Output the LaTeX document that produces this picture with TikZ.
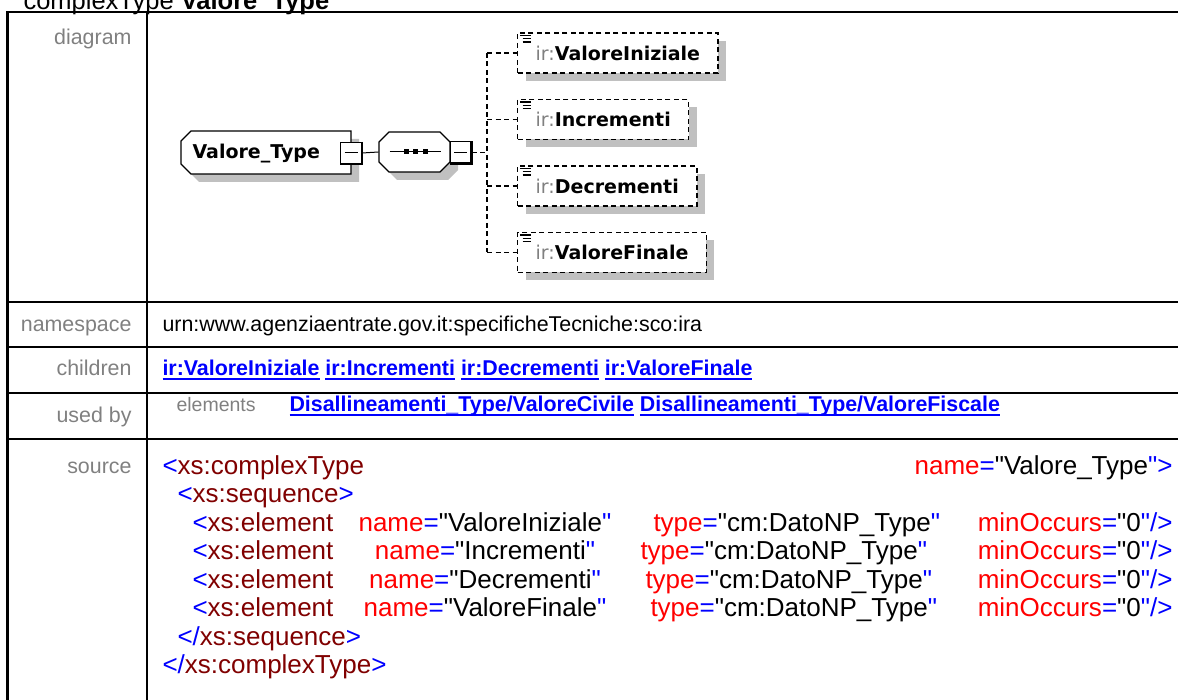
\documentclass[tikz,border=0pt]{standalone}
\usepackage{fontspec}
\setmainfont{Liberation Sans}[Ligatures=TeXOff]
\newfontfamily\srcfont{Liberation Sans}[Ligatures=TeXOff]
\newfontfamily\diagfont{DejaVu Sans}
\usetikzlibrary{backgrounds,shadows}

\definecolor{tagred}{RGB}{128,0,0}
\definecolor{attred}{RGB}{255,0,0}
\definecolor{xblue}{RGB}{0,0,255}
\definecolor{lblgray}{RGB}{128,128,128}
\definecolor{shade}{RGB}{192,192,192}

% pieces of the XML listing
\newcommand{\xtag}[1]{\textcolor{xblue}{<}\textcolor{tagred}{#1}}
\newcommand{\xend}[1]{\textcolor{xblue}{</}\textcolor{tagred}{#1}\textcolor{xblue}{>}}
\newcommand{\xatt}[2]{\textcolor{attred}{#1}\textcolor{xblue}{=}\char34 #2\textcolor{xblue}{\char34}}
% a hyperlink: underlined word by word
\newcommand{\xlink}[1]{\setbox0\hbox{#1}\rlap{\color{xblue}\vrule height -1.6pt depth 3.6pt width \wd0}\box0\relax}

\begin{document}
\begin{tikzpicture}[
  x=1pt,y=-1pt,
  line width=1pt,
  % the documentation table round the diagram
  rule/.style={line width=2.5pt},
  lbl/.style={anchor=base east,inner sep=0pt,text=lblgray,font=\fontsize{21.4}{25}\selectfont},
  cell/.style={anchor=base west,inner sep=0pt,font=\fontsize{21.4}{25}\selectfont},
  link/.style={cell,text=xblue,font=\fontsize{21.4}{25}\selectfont\bfseries},
  src/.style={inner sep=0pt,font=\srcfont\fontsize{26}{30}\selectfont},
  % the schema diagram itself
  shadowfill/.style={fill=shade,draw=none},
  shapeline/.style={draw=black,fill=white,line width=1.1pt},
  dline/.style={dash pattern=on 5pt off 3.5pt,line width=1.4pt},
  minusbox/.style={draw,fill=white,line width=1pt,minimum size=21pt,inner sep=0pt,
    path picture={\draw ([xshift=-6.5pt]path picture bounding box.center)
      -- ([xshift=6.5pt]path picture bounding box.center);}},
  elem/.style={draw,dline,fill=white,anchor=west,minimum height=40pt,inner xsep=18pt,
    font=\diagfont\fontsize{19}{22}\selectfont,
    drop shadow={shadow xshift=8pt,shadow yshift=-8pt,opacity=1,fill=shade},
    path picture={\draw[solid,line width=1.1pt]
      ([xshift=2.5pt,yshift=-2.5pt]path picture bounding box.north west)
        -- ([xshift=13pt,yshift=-2.5pt]path picture bounding box.north west)
      ([xshift=5pt,yshift=-5.8pt]path picture bounding box.north west)
        -- ([xshift=13pt,yshift=-5.8pt]path picture bounding box.north west)
      ([xshift=5pt,yshift=-9pt]path picture bounding box.north west)
        -- ([xshift=13pt,yshift=-9pt]path picture bounding box.north west);}},
]

%--- geometry ----------------------------------------------------------------
\def\boxL{181}         % left face of the Valore_Type box
\def\boxR{351}         % right face of the Valore_Type box
\def\boxT{131}         % top of the Valore_Type box
\def\boxB{174}         % bottom of the Valore_Type box
\def\seqL{379}         % left face of the sequence octagon
\def\seqR{450}         % right face of the sequence octagon
\def\seqT{132}         % top of the sequence octagon
\def\seqB{172}         % bottom of the sequence octagon
\def\cut{10}           % size of the cut corners
\def\sh{8}             % shadow offset

\useasboundingbox (0,0) rectangle (1178,700);
\clip (0,0) rectangle (1178,700);

%--- the table ---------------------------------------------------------------
\node[anchor=base west,inner sep=0pt,font=\fontsize{25.5}{30}\selectfont] (title)
  at (23,10) {complexType \textbf{Valore\_Type}};

\draw[rule] (1185,12) -- (7.5,12) -- (7.5,710);
\draw[rule] (147,12) -- (147,710);
\draw[rule] (7.5,302) -- (1185,302);
\draw[rule] (7.5,347) -- (1185,347);
\draw[rule] (7.5,393) -- (1185,393);
\draw[rule] (7.5,439) -- (1185,439);

\node[lbl] (lDiagram) at (132,45) {diagram};
\node[lbl] (lNamespace) at (132,331.5) {namespace};
\node[lbl] (lChildren) at (132,376) {children};
\node[lbl] (lUsedby) at (132,423) {used by};
\node[lbl] (lSource) at (132,473) {source};

\node[cell] (namespace) at (162,331.5)
  {urn:www.agenziaentrate.gov.it:specificheTecniche:sco:ira};
\node[link] (children) at (162,376)
  {\xlink{ir:ValoreIniziale} \xlink{ir:Incrementi} \xlink{ir:Decrementi} \xlink{ir:ValoreFinale}};
\node[cell,text=lblgray,font=\fontsize{19.5}{23}\selectfont] (elements) at (176,412) {elements};
\node[link] (usedby) at (289,412)
  {\xlink{Disallineamenti\_Type/ValoreCivile} \xlink{Disallineamenti\_Type/ValoreFiscale}};

%--- the XML source ----------------------------------------------------------
\node[src,anchor=base west] (s1) at (162,474) {\xtag{xs:complexType}};
\node[src,anchor=base east] (s1n) at (1173,474) {\xatt{name}{Valore\_Type}\textcolor{xblue}{>}};
\node[src,anchor=base west] (s2) at (177,502.5) {\xtag{xs:sequence}\textcolor{xblue}{>}};

\node[src,anchor=base west] (s3) at (192,531) {\xtag{xs:element}};
\node[src,anchor=base] (s3n) at (485,531) {\xatt{name}{ValoreIniziale}};
\node[src,anchor=base west] (s3t) at (653,531) {\xatt{type}{cm:DatoNP\_Type}};
\node[src,anchor=base east] (s3m) at (1173,531) {\xatt{minOccurs}{0}\textcolor{xblue}{/>}};

\node[src,anchor=base west] (s4) at (192,559.5) {\xtag{xs:element}};
\node[src,anchor=base] (s4n) at (485,559.5) {\xatt{name}{Incrementi}};
\node[src,anchor=base west] (s4t) at (640,559.5) {\xatt{type}{cm:DatoNP\_Type}};
\node[src,anchor=base east] (s4m) at (1173,559.5) {\xatt{minOccurs}{0}\textcolor{xblue}{/>}};

\node[src,anchor=base west] (s5) at (192,588) {\xtag{xs:element}};
\node[src,anchor=base] (s5n) at (485,588) {\xatt{name}{Decrementi}};
\node[src,anchor=base west] (s5t) at (645,588) {\xatt{type}{cm:DatoNP\_Type}};
\node[src,anchor=base east] (s5m) at (1173,588) {\xatt{minOccurs}{0}\textcolor{xblue}{/>}};

\node[src,anchor=base west] (s6) at (192,616.5) {\xtag{xs:element}};
\node[src,anchor=base] (s6n) at (485,616.5) {\xatt{name}{ValoreFinale}};
\node[src,anchor=base west] (s6t) at (650,616.5) {\xatt{type}{cm:DatoNP\_Type}};
\node[src,anchor=base east] (s6m) at (1173,616.5) {\xatt{minOccurs}{0}\textcolor{xblue}{/>}};

\node[src,anchor=base west] (s7) at (177,645) {\xend{xs:sequence}};
\node[src,anchor=base west] (s8) at (162,673.5) {\xend{xs:complexType}};

%--- the diagram -------------------------------------------------------------
% Shadows first, then the white shapes on top of them.
\fill[shadowfill,shift={(\sh,\sh)}] (\boxL+\cut,\boxT) -- (\boxR,\boxT) -- (\boxR,\boxB)
  -- (\boxL+\cut,\boxB) -- (\boxL,\boxB-\cut) -- (\boxL,\boxT+\cut) -- cycle;
\fill[shadowfill,shift={(\sh,\sh)}] (\seqL+\cut,\seqT) -- (\seqR-\cut,\seqT) -- (\seqR,\seqT+\cut)
  -- (\seqR,\seqB-\cut) -- (\seqR-\cut,\seqB) -- (\seqL+\cut,\seqB) -- (\seqL,\seqB-\cut)
  -- (\seqL,\seqT+\cut) -- cycle;

\path[shapeline] (\boxL+\cut,\boxT) -- (\boxR,\boxT) -- (\boxR,\boxB)
  -- (\boxL+\cut,\boxB) -- (\boxL,\boxB-\cut) -- (\boxL,\boxT+\cut) -- cycle;
\path[shapeline] (\seqL+\cut,\seqT) -- (\seqR-\cut,\seqT) -- (\seqR,\seqT+\cut)
  -- (\seqR,\seqB-\cut) -- (\seqR-\cut,\seqB) -- (\seqL+\cut,\seqB) -- (\seqL,\seqB-\cut)
  -- (\seqL,\seqT+\cut) -- cycle;

\node[anchor=base west,inner sep=0pt,font=\diagfont\bfseries\fontsize{19}{22}\selectfont]
  (vtype) at (192,158.5) {Valore\_Type};
\node[minimum width=71pt,minimum height=40pt,inner sep=0pt] (seq) at (414.5,152) {};

% The sequence symbol: a line with three dots.
\draw ([xshift=11pt]seq.west) -- ([xshift=-10pt]seq.east);
\fill (403.5,149.5) rectangle (408.5,154.5);
\fill (413,149.5) rectangle (418,154.5);
\fill (422.5,149.5) rectangle (427.5,154.5);

\node[minusbox] (vminus) at (351,153) {};
\node[minusbox] (sminus) at (460.5,152.5) {};
\draw[line width=2.5pt] (vminus.north east) -- (vminus.south east) -- (vminus.south west);
\draw[line width=2.5pt] (sminus.north east) -- (sminus.south east) -- (sminus.south west);

\draw (vminus.east) -- (seq.west);

% The four optional children, hung from a dashed trunk.
\node[elem] (c1) at (517,53) {\textcolor{lblgray}{ir:}\textbf{ValoreIniziale}};
\node[elem] (c2) at (517,119.5) {\textcolor{lblgray}{ir:}\textbf{Incrementi}};
\node[elem] (c3) at (517,186) {\textcolor{lblgray}{ir:}\textbf{Decrementi}};
\node[elem] (c4) at (517,252.5) {\textcolor{lblgray}{ir:}\textbf{ValoreFinale}};

\coordinate (trunk) at (487,152.5);
\draw[dline] (sminus.east) -- (trunk);
\draw[dline] (trunk |- c1.west) -- (trunk |- c4.west);
\draw[dline] (trunk |- c1.west) -- (c1.west);
\draw[dline] (trunk |- c2.west) -- (c2.west);
\draw[dline] (trunk |- c3.west) -- (c3.west);
\draw[dline] (trunk |- c4.west) -- (c4.west);

\end{tikzpicture}
\end{document}
